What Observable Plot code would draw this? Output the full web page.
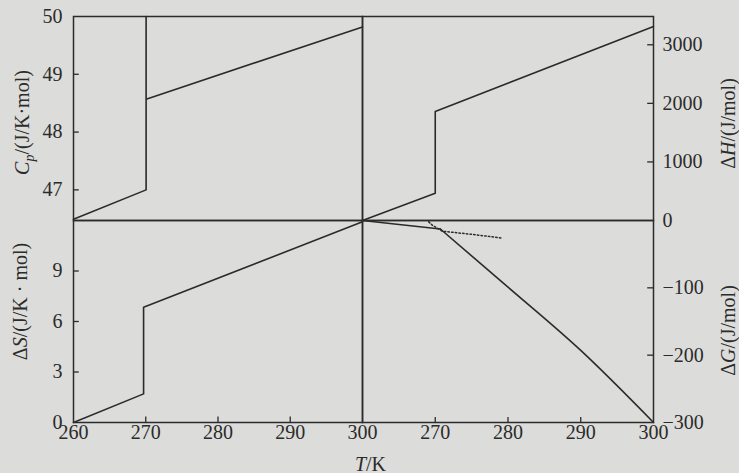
<!DOCTYPE html>
<html>
<head>
<meta charset="utf-8">
<script src="https://cdn.jsdelivr.net/npm/d3@7"></script>
<script src="https://cdn.jsdelivr.net/npm/@observablehq/plot@0.6"></script>
<style>
  html, body { margin: 0; padding: 0; background: #dcdcda; }
  #chart { position: relative; width: 739px; height: 473px; background: #dcdcda; }
  #chart svg { position: absolute; left: 0; top: 0; }
</style>
</head>
<body>
<div id="chart"></div>
<script>
// ---- data ----
const T_cp = [260, 270.05, 270.05, 270.05, 300];
const cp   = [46.49, 47.0, 50.0, 48.57, 49.82];

const T_s = [260, 269.7, 269.7, 300];
const dS  = [0, 1.7, 6.85, 11.92];

const T_h = [260, 270, 270, 300];
const dH  = [0, 466, 1861, 3312];

// solid ΔG: before the kink, and after it
const T_g1 = [260, 270.7];
const dG1  = [0, -12.6];
const T_g2 = [270.7, 280, 290, 300];
const dG2  = [-12.6, -99, -193, -300];

// dotted ΔG branch
const T_gd = [269.1, 269.6, 271.0, 275, 279.1];
const dGd  = [-2, -7, -16, -20.5, -26];

const xTicksLeft  = [260, 270, 280, 290, 300];
const xTicksRight = [270, 280, 290, 300];
const cpTicks = [47, 48, 49, 50];
const sTicks  = [0, 3, 6, 9];
const hTicks  = [0, 1000, 2000, 3000];
const gTicks  = [-100, -200, -300];

// ---- layout ----
const W = 739, H = 473;
const L = 73, M = 362, R = 653, TOP = 16, MID = 220, BOT = 422;
const ink = "#2b2b2b";
const font = "'Liberation Serif', 'DejaVu Serif', serif";
const fmt = d => String(d).replace("-", "\u2212");

function panel({left, right, top, bottom, ydom, marks}) {
  return Plot.plot({
    width: W, height: H,
    marginLeft: left, marginRight: W - right,
    marginTop: top, marginBottom: H - bottom,
    x: {domain: [260, 300]},
    y: {domain: ydom},
    style: {background: "transparent", fontFamily: font, fontSize: "20px", color: ink, overflow: "visible"},
    marks
  });
}

const sw = 1.6;
const tickStyle = {stroke: ink, strokeWidth: 1.3};

const pCp = panel({
  left: L, right: M, top: TOP, bottom: MID, ydom: [46.47, 50],
  marks: [
    Plot.frame({stroke: ink, strokeWidth: 1.5}),
    Plot.axisX({ticks: [], label: null}),
    Plot.axisY({ticks: cpTicks, tickFormat: fmt, tickSize: 0, tickPadding: 11, label: null, fontSize: 20}),
    Plot.ruleY([47, 48, 49], {x1: 260, x2: 260.8, ...tickStyle}),
    Plot.line(cp, {x: T_cp, y: cp, stroke: ink, strokeWidth: sw}),
    Plot.text(["Cp/(J/K·mol)"], {frameAnchor: "left", textAnchor: "middle", dx: -51, dy: 4, rotate: -90, fontSize: 20, fill: ink})
  ]
});

const pS = panel({
  left: L, right: M, top: MID, bottom: BOT, ydom: [0, 12],
  marks: [
    Plot.frame({stroke: ink, strokeWidth: 1.5}),
    Plot.axisX({ticks: xTicksLeft, tickFormat: fmt, tickSize: 0, tickPadding: 2, label: null, fontSize: 20}),
    Plot.axisY({ticks: sTicks, tickFormat: fmt, tickSize: 0, tickPadding: 11, label: null, fontSize: 20}),
    Plot.ruleY([3, 6, 9], {x1: 260, x2: 260.8, ...tickStyle}),
    Plot.ruleX([270, 280, 290], {y1: 0, y2: 0.33, ...tickStyle}),
    Plot.line(dS, {x: T_s, y: dS, stroke: ink, strokeWidth: sw}),
    Plot.text(["ΔS/(J/K · mol)"], {frameAnchor: "left", textAnchor: "middle", dx: -53, dy: -20, rotate: -90, fontSize: 20, fill: ink}),
    Plot.text(["T/K"], {frameAnchor: "bottom-right", textAnchor: "middle", dx: 8, dy: 48, fontSize: 20, fill: ink})
  ]
});

const pH = panel({
  left: M, right: R, top: TOP, bottom: MID, ydom: [0, 3483],
  marks: [
    Plot.frame({stroke: ink, strokeWidth: 1.5}),
    Plot.axisX({ticks: [], label: null}),
    Plot.axisY({anchor: "right", ticks: hTicks, tickFormat: fmt, tickSize: 0, tickPadding: 9, label: null, fontSize: 20}),
    Plot.ruleY([1000, 2000, 3000], {x1: 299.2, x2: 300, ...tickStyle}),
    Plot.line(dH, {x: T_h, y: dH, stroke: ink, strokeWidth: sw}),
    Plot.text(["ΔH/(J/mol)"], {frameAnchor: "right", textAnchor: "middle", dx: 75, dy: 5, rotate: -90, fontSize: 20, fill: ink})
  ]
});

const pG = panel({
  left: M, right: R, top: MID, bottom: BOT, ydom: [-300, 0],
  marks: [
    Plot.frame({stroke: ink, strokeWidth: 1.5}),
    Plot.axisX({ticks: xTicksRight, tickFormat: fmt, tickSize: 0, tickPadding: 2, label: null, fontSize: 20}),
    Plot.axisY({anchor: "right", ticks: gTicks, tickFormat: fmt, tickSize: 0, tickPadding: 9, label: null, fontSize: 20}),
    Plot.ruleY([-100, -200], {x1: 299.2, x2: 300, ...tickStyle}),
    Plot.ruleX([270, 280, 290], {y1: -300, y2: -292.5, ...tickStyle}),
    Plot.line(dG1, {x: T_g1, y: dG1, stroke: ink, strokeWidth: sw}),
    Plot.line(dG2, {x: T_g2, y: dG2, stroke: ink, strokeWidth: sw, curve: "monotone-x"}),
    Plot.line(dGd, {x: T_gd, y: dGd, stroke: ink, strokeWidth: 1.5, strokeDasharray: "1.5,2.2"}),
    Plot.text(["ΔG/(J/mol)"], {frameAnchor: "right", textAnchor: "middle", dx: 75, dy: 9, rotate: -90, fontSize: 20, fill: ink})
  ]
});

const rich = {
  "Cp/(J/K·mol)": '<tspan font-style="italic">C</tspan><tspan font-style="italic" font-size="14" dy="5">p</tspan><tspan dy="-5">/(J/K·mol)</tspan>',
  "ΔS/(J/K · mol)": 'Δ<tspan font-style="italic">S</tspan>/(J/K · mol)',
  "ΔH/(J/mol)": 'Δ<tspan font-style="italic">H</tspan>/(J/mol)',
  "ΔG/(J/mol)": 'Δ<tspan font-style="italic">G</tspan>/(J/mol)',
  "T/K": '<tspan font-style="italic">T</tspan>/K'
};

const chart = document.getElementById("chart");
for (const p of [pCp, pS, pH, pG]) {
  p.querySelectorAll("text").forEach(t => {
    const s = t.textContent;
    if (rich[s]) t.innerHTML = rich[s];
    t.setAttribute("fill", ink);
  });
  chart.appendChild(p);
}
</script>
</body>
</html>
